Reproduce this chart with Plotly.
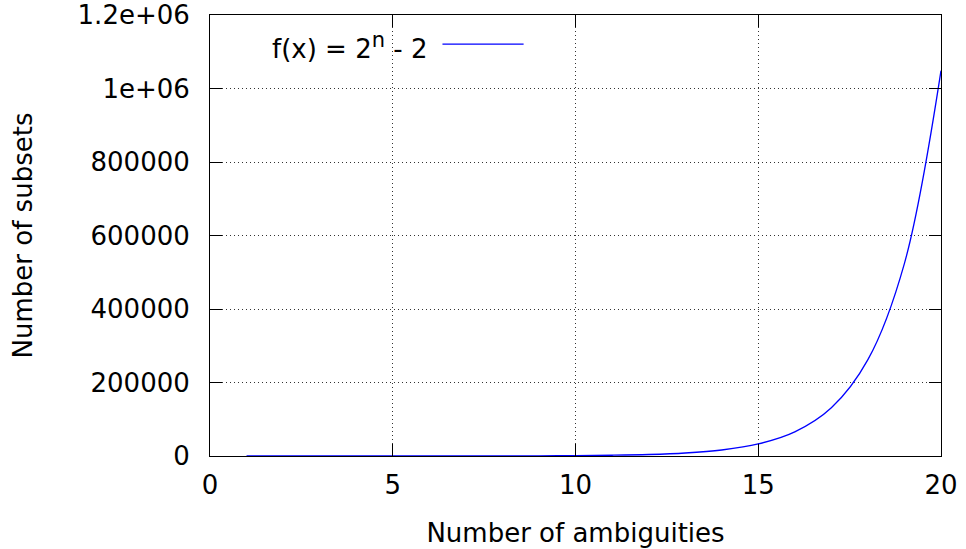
import plotly.graph_objects as go

# number of ambiguities and the corresponding count of subsets, 2^n - 2
ambiguities = [1, 2, 3, 4, 5, 6, 7, 8, 9, 10, 11, 12, 13, 14, 15, 16, 17, 18, 19, 20]
subsets = [0, 2, 6, 14, 30, 62, 126, 254, 510, 1022, 2046, 4094, 8190, 16382,
           32766, 65534, 131070, 262142, 524286, 1048574]

x_ticks = [0, 5, 10, 15, 20]
y_ticks = [0, 200000, 400000, 600000, 800000, 1000000, 1200000]
y_tick_labels = ["0", "200000", "400000", "600000", "800000", "1e+06", "1.2e+06"]

FONT = "DejaVu Sans"
FS = 26

fig = go.Figure()
fig.add_trace(go.Scatter(
    x=ambiguities, y=subsets, mode="lines",
    line=dict(color="#0000ff", width=1.3, shape="spline", smoothing=1.0),
    showlegend=False, hoverinfo="skip",
))

axis_common = dict(
    showline=True, linecolor="black", linewidth=1, mirror="allticks",
    ticks="inside", ticklen=12, tickcolor="black", tickwidth=1,
    showgrid=True, gridcolor="#333333", griddash="1px,3px", gridwidth=1,
    zeroline=False, automargin=False,
    tickfont=dict(family=FONT, size=FS, color="black"),
)

fig.update_xaxes(
    range=[0, 20], tickvals=x_ticks, ticktext=[str(v) for v in x_ticks],
    ticklabelstandoff=6,
    title=dict(text="Number of ambiguities", font=dict(family=FONT, size=FS, color="black"), standoff=24),
    **axis_common,
)
fig.update_yaxes(
    range=[0, 1200000], tickvals=y_ticks, ticktext=y_tick_labels,
    ticklabelstandoff=14,
    title=dict(text="Number of subsets", font=dict(family=FONT, size=FS, color="black"), standoff=37),
    **axis_common,
)

# key: label on the left, line sample on the right
fig.add_annotation(
    xref="paper", yref="paper", x=0.299, y=0.930, xanchor="right", yanchor="middle",
    text='f(x) = 2<sup><span style="font-size:21px">n</span></sup> - 2', showarrow=False,
    font=dict(family=FONT, size=FS, color="black"),
)
fig.add_shape(
    type="line", xref="paper", yref="paper", x0=0.318, x1=0.429, y0=0.934, y1=0.934,
    line=dict(color="#0000ff", width=1.3),
)

fig.update_layout(
    width=966, height=549,
    margin=dict(l=210, r=25, t=15, b=93),
    plot_bgcolor="white", paper_bgcolor="white",
    font=dict(family=FONT, size=FS, color="black"),
)

fig.write_html("out.html")
